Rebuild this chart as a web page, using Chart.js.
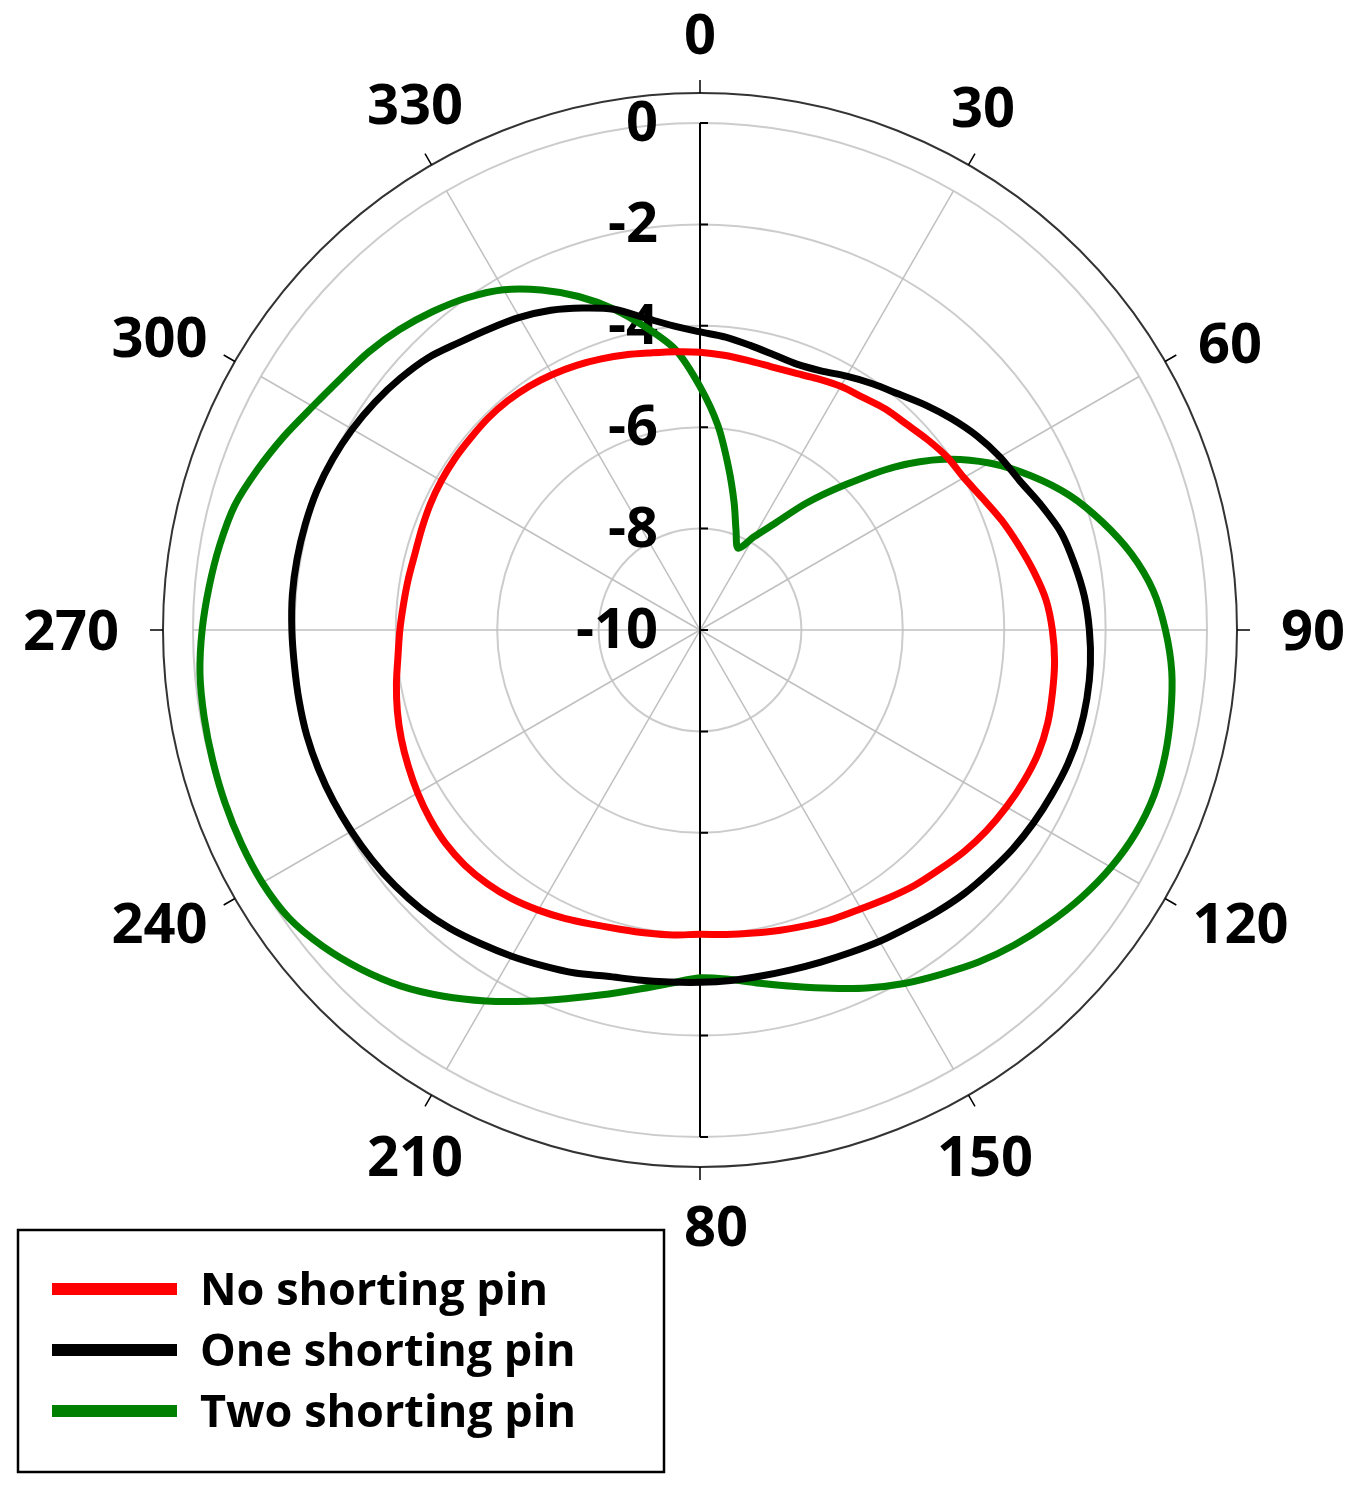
<!DOCTYPE html>
<html>
<head>
<meta charset="utf-8">
<script src="https://cdn.jsdelivr.net/npm/chart.js@4.4.1/dist/chart.umd.min.js"></script>
<style>
  html, body { margin: 0; padding: 0; background: #fff; overflow: hidden; }
  canvas { display: block; }
</style>
</head>
<body>
<canvas id="chart" width="1350" height="1487"></canvas>
<script>
'use strict'

// angle of each sample, degrees clockwise from top
const angles = [0,5,10,15,20,25,30,35,40,45,50,55,60,65,70,75,80,85,
  90,95,100,105,110,115,120,125,130,135,140,145,150,155,160,165,170,175,
  180,185,190,195,200,205,210,215,220,225,230,235,240,245,250,255,260,265,
  270,275,280,285,290,295,300,305,310,315,320,325,330,335,340,345,350,355];

// angular tick labels and radial ticks (dB)
const angleTicks = [0,30,60,90,120,150,180,210,240,270,300,330];
const radialTicks = [-10,-8,-6,-4,-2,0];

const seriesNames = ['No shorting pin', 'One shorting pin', 'Two shorting pin'];
const seriesColors = ['#ff0000', '#000000', '#008000'];

const noPin = [-4.52,-4.56,-4.6,-4.62,-4.6,-4.53,-4.45,-4.4,-4.31,-4.25,-4.15,-4.05,
  -3.99,-3.85,-3.67,-3.5,-3.32,-3.15,-3.05,-2.98,-2.94,-2.9,-2.9,-2.95,
  -3.02,-3.1,-3.2,-3.32,-3.42,-3.54,-3.65,-3.72,-3.8,-3.87,-3.93,-3.97,
  -4.0,-3.96,-3.93,-3.89,-3.82,-3.72,-3.62,-3.53,-3.47,-3.44,-3.45,-3.5,
  -3.57,-3.65,-3.73,-3.82,-3.92,-4.02,-4.08,-4.13,-4.16,-4.18,-4.16,-4.13,
  -4.11,-4.1,-4.1,-4.09,-4.1,-4.13,-4.18,-4.24,-4.31,-4.38,-4.45,-4.49];

const onePin = [-4.12,-4.2,-4.3,-4.38,-4.42,-4.36,-4.22,-4.07,-3.92,-3.72,-3.52,-3.33,
  -3.17,-3.04,-2.83,-2.62,-2.5,-2.39,-2.32,-2.27,-2.25,-2.25,-2.28,-2.34,
  -2.4,-2.47,-2.56,-2.64,-2.74,-2.84,-2.91,-2.98,-3.03,-3.06,-3.07,-3.06,
  -3.05,-3.03,-2.99,-2.93,-2.8,-2.69,-2.57,-2.45,-2.32,-2.22,-2.15,-2.1,
  -2.06,-2.02,-1.99,-1.97,-1.97,-1.97,-1.95,-1.93,-1.93,-1.94,-1.96,-2.01,
  -2.08,-2.17,-2.28,-2.41,-2.6,-2.75,-2.88,-3.04,-3.24,-3.45,-3.75,-3.98];

const twoPin = [-5.2,-5.95,-6.75,-7.4,-7.92,-8.22,-7.88,-7.44,-6.73,-5.95,-5.0,-4.13,
  -3.41,-2.8,-2.24,-1.78,-1.36,-1.03,-0.82,-0.66,-0.57,-0.5,-0.47,-0.52,
  -0.64,-0.81,-1.01,-1.22,-1.45,-1.71,-1.95,-2.21,-2.48,-2.72,-2.92,-3.08,
  -3.14,-3.0,-2.8,-2.55,-2.26,-1.92,-1.55,-1.18,-0.83,-0.54,-0.29,-0.1,
  -0.03,-0.02,-0.03,-0.05,-0.07,-0.1,-0.18,-0.28,-0.38,-0.5,-0.72,-0.95,
  -1.18,-1.35,-1.47,-1.62,-1.8,-2.0,-2.25,-2.6,-3.0,-3.45,-3.95,-4.45];

const seriesData = [noPin, onePin, twoPin];

const bigFont = 'bold 56px "Open Sans"';
const legendFont = 'bold 45px "Open Sans"';

// frame, axis, tick labels and angle labels drawn from the radial scale
const polarDecor = {
  id: 'polarDecor',
  beforeDatasetsDraw(chart) {
    const ctx = chart.ctx;
    const s = chart.scales.r;
    const cx = s.xCenter, cy = s.yCenter;
    const rTop = s.getDistanceFromCenterForValue(s.max);
    const rOuter = rTop + 30;

    ctx.save();
    // outer frame circle
    ctx.strokeStyle = '#333333';
    ctx.lineWidth = 2;
    ctx.beginPath();
    ctx.arc(cx, cy, rOuter, 0, Math.PI * 2);
    ctx.stroke();

    // outer ticks every 30 deg
    ctx.strokeStyle = '#000';
    ctx.lineWidth = 1.5;
    angleTicks.forEach(a => {
      const i = angles.indexOf(a);
      const p1 = s.getPointPosition(i, rOuter);
      const p2 = s.getPointPosition(i, rOuter + 13);
      ctx.beginPath();
      ctx.moveTo(p1.x, p1.y);
      ctx.lineTo(p2.x, p2.y);
      ctx.stroke();
    });

    // vertical radial axis
    ctx.strokeStyle = '#000';
    ctx.lineWidth = 2;
    ctx.beginPath();
    ctx.moveTo(cx, cy - rTop);
    ctx.lineTo(cx, cy + rTop);
    ctx.stroke();
    radialTicks.forEach(v => {
      const d = s.getDistanceFromCenterForValue(v);
      ctx.beginPath();
      ctx.moveTo(cx, cy - d);
      ctx.lineTo(cx + 8, cy - d);
      ctx.moveTo(cx, cy + d);
      ctx.lineTo(cx + 8, cy + d);
      ctx.stroke();
    });

    // radial tick labels
    ctx.fillStyle = '#000';
    ctx.font = bigFont;
    ctx.textAlign = 'right';
    ctx.textBaseline = 'alphabetic';
    radialTicks.forEach(v => {
      const d = s.getDistanceFromCenterForValue(v);
      ctx.fillText(String(v), cx - 42, cy - d + 18);
    });

    // angle labels, nudged a little towards the nearer axis like the original
    ctx.textAlign = 'center';
    const step = 360 / angles.length;
    angleTicks.forEach(a => {
      const txt = String(a);
      const w = ctx.measureText(txt).width;
      const rad = a * Math.PI / 180;
      const sn = Math.sin(rad);
      const s2 = Math.sin(2 * rad);
      const dist = rTop + 89 + Math.max(0, w / 2 - 15) * sn * sn - 8 * s2 * s2;
      const shift = -1.8 * Math.sin(4 * rad);
      const p = s.getPointPosition(angles.indexOf(a) + shift / step, dist);
      ctx.fillText(txt, p.x, p.y + 20);
    });
    ctx.restore();
  },
  afterDraw(chart) {
    const ctx = chart.ctx;
    ctx.save();
    // legend box sits over the 180 label
    ctx.fillStyle = '#fff';
    ctx.fillRect(18, 1200, 668, 272);
    ctx.strokeStyle = '#000';
    ctx.lineWidth = 2.5;
    ctx.strokeRect(18, 1230, 646, 242);

    ctx.font = legendFont;
    ctx.textAlign = 'left';
    ctx.textBaseline = 'alphabetic';
    seriesNames.forEach((name, k) => {
      const y = 1289 + k * 61;
      ctx.strokeStyle = seriesColors[k];
      ctx.lineWidth = 12;
      ctx.beginPath();
      ctx.moveTo(52, y);
      ctx.lineTo(177, y);
      ctx.stroke();
      ctx.fillStyle = '#000';
      ctx.fillText(name, 200, y + 16);
    });
    ctx.restore();
  }
};

const ctx = document.getElementById('chart').getContext('2d');

const myChart = new Chart(ctx, {
  type: 'radar',
  data: {
    labels: angles,
    datasets: seriesNames.map((name, k) => ({
      label: name,
      data: seriesData[k],
      borderColor: seriesColors[k],
      backgroundColor: seriesColors[k],
      borderWidth: 7,
      borderJoinStyle: 'round',
      fill: false,
      tension: 0.3,
      pointRadius: 0,
      pointHoverRadius: 0
    }))
  },
  options: {
    responsive: false,
    animation: false,
    plugins: {
      legend: { display: false },
      tooltip: { enabled: false }
    },
    scales: {
      r: {
        min: -10,
        max: 0,
        startAngle: 0,
        ticks: { display: false, stepSize: 2 },
        pointLabels: { display: false },
        grid: { circular: true, color: '#cccccc', lineWidth: 2 },
        angleLines: {
          color: '#c0c0c0',
          lineWidth: c => (c.index % 6 === 0 ? 1.5 : 0)
        },
        afterFit: s => {
          s.xCenter = 700;
          s.yCenter = 630;
          s.drawingArea = 507;
        }
      }
    }
  },
  plugins: [polarDecor]
});
</script>
</body>
</html>
